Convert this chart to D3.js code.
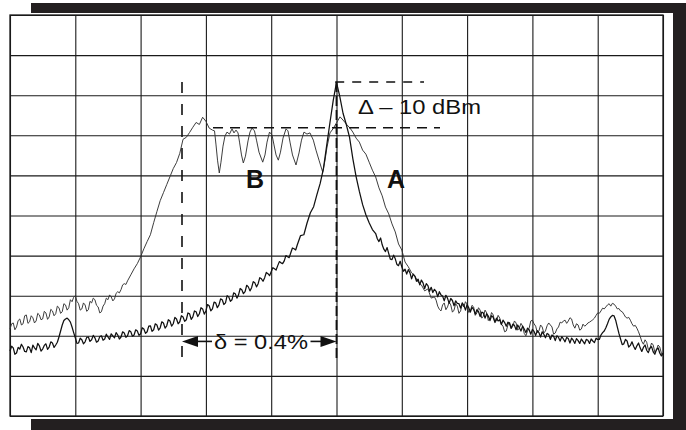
<!DOCTYPE html>
<html><head><meta charset="utf-8">
<script src="https://cdn.jsdelivr.net/npm/d3@7"></script>
<style>html,body{margin:0;padding:0;background:#fff;} svg{display:block;}</style>
</head><body>
<svg id="c" width="686" height="430"></svg>
<script>
// Frequency in screen divisions (0..10), level in dB (10 dB/div, top = 0 dB)
const traceA = [
[0,-83.8],[0.025,-82.6],[0.05,-83.0],[0.075,-84.6],[0.1,-84.3],[0.125,-82.9],[0.15,-83.3],[0.175,-82.1],[0.2,-82.8],[0.225,-83.9],
[0.25,-84.0],[0.275,-82.7],[0.3,-83.0],[0.325,-84.2],[0.35,-82.3],[0.375,-83.0],[0.4,-83.5],[0.425,-81.9],[0.45,-82.5],[0.475,-83.8],
[0.5,-83.3],[0.525,-82.4],[0.55,-82.0],[0.575,-83.4],[0.6,-82.8],[0.625,-81.5],[0.65,-81.8],[0.675,-82.9],[0.7,-82.3],[0.725,-81.6],
[0.75,-80.3],[0.775,-78.8],[0.8,-77.3],[0.825,-76.2],[0.85,-75.8],[0.875,-75.6],[0.9,-76.0],[0.925,-76.6],[0.95,-77.8],[0.975,-79.2],
[1.0,-80.5],[1.025,-81.9],[1.05,-81.8],[1.075,-80.6],[1.1,-81.0],[1.125,-82.0],[1.15,-81.5],[1.175,-80.4],[1.2,-80.3],[1.225,-81.4],
[1.25,-81.0],[1.275,-79.9],[1.3,-80.5],[1.325,-81.6],[1.35,-81.3],[1.375,-80.2],[1.4,-80.0],[1.425,-81.1],[1.45,-80.8],[1.475,-79.6],
[1.5,-80.3],[1.525,-80.9],[1.55,-79.5],[1.575,-80.0],[1.6,-80.5],[1.625,-79.2],[1.65,-79.8],[1.675,-80.8],[1.7,-80.3],[1.725,-79.0],
[1.75,-79.3],[1.775,-80.4],[1.8,-80.0],[1.825,-78.7],[1.85,-79.0],[1.875,-80.1],[1.9,-79.8],[1.925,-78.5],[1.95,-78.8],[1.975,-79.9],
[2.0,-79.5],[2.025,-78.0],[2.05,-78.3],[2.075,-79.4],[2.1,-79.0],[2.125,-77.6],[2.15,-77.5],[2.175,-78.9],[2.2,-78.5],[2.225,-77.0],
[2.25,-77.3],[2.275,-78.6],[2.3,-78.0],[2.325,-76.5],[2.35,-76.8],[2.375,-78.1],[2.4,-77.5],[2.425,-76.0],[2.45,-76.3],[2.475,-77.6],
[2.5,-77.0],[2.525,-75.4],[2.55,-75.8],[2.575,-77.0],[2.6,-76.5],[2.625,-75.0],[2.65,-75.3],[2.675,-76.4],[2.7,-76.0],[2.725,-74.3],
[2.75,-74.5],[2.775,-75.9],[2.8,-75.3],[2.825,-73.8],[2.85,-74.0],[2.875,-75.2],[2.9,-74.5],[2.925,-73.0],[2.95,-73.3],[2.975,-74.6],
[3.0,-73.8],[3.025,-72.2],[3.05,-72.5],[3.075,-73.8],[3.1,-73.3],[3.125,-71.6],[3.15,-71.8],[3.175,-73.0],[3.2,-72.3],[3.225,-70.8],
[3.25,-71.0],[3.275,-72.2],[3.3,-71.8],[3.325,-70.0],[3.35,-70.3],[3.375,-71.4],[3.4,-71.0],[3.425,-69.3],[3.45,-69.5],[3.475,-70.6],
[3.5,-69.8],[3.525,-68.2],[3.55,-68.5],[3.575,-69.5],[3.6,-69.0],[3.625,-67.4],[3.65,-67.8],[3.675,-68.8],[3.7,-68.0],[3.725,-66.5],
[3.75,-66.8],[3.775,-67.8],[3.8,-67.0],[3.825,-65.5],[3.85,-65.8],[3.875,-66.4],[3.9,-65.5],[3.925,-64.2],[3.95,-64.5],[3.975,-65.0],
[4.0,-64.0],[4.025,-63.0],[4.05,-63.3],[4.075,-63.6],[4.1,-62.5],[4.125,-61.5],[4.15,-61.8],[4.175,-62.0],[4.2,-61.3],[4.225,-60.0],
[4.25,-60.3],[4.275,-60.5],[4.3,-59.3],[4.325,-58.1],[4.35,-58.3],[4.375,-58.6],[4.4,-57.3],
[4.45,-55.0],[4.5,-54.8],[4.55,-51.8],[4.6,-49.3],[4.65,-47.8],[4.7,-44.8],[4.75,-42.0],[4.8,-38.3],[4.85,-32.5],[4.9,-26.8],
[4.95,-21.3],[5.0,-16.8],[5.05,-20.3],[5.1,-24.5],[5.15,-27.3],[5.2,-30.5],[5.25,-35.8],[5.3,-40.3],[5.35,-44.0],[5.4,-47.3],
[5.45,-49.8],[5.5,-51.8],[5.55,-53.5],
[5.6,-54.5],[5.625,-55.8],[5.65,-56.5],[5.675,-55.6],[5.7,-57.3],[5.725,-58.4],[5.75,-59.0],[5.775,-58.0],[5.8,-59.5],[5.825,-60.9],
[5.85,-61.0],[5.875,-59.9],[5.9,-60.8],[5.925,-62.2],[5.95,-62.5],[5.975,-61.4],
[6.0,-62.8],[6.025,-63.9],[6.05,-63.4],[6.075,-64.6],[6.1,-63.5],[6.125,-64.3],[6.15,-65.8],[6.175,-64.6],[6.2,-65.1],[6.225,-66.4],
[6.25,-65.9],[6.275,-67.3],[6.3,-66.1],[6.325,-66.8],[6.35,-68.2],[6.375,-67.0],[6.4,-67.5],[6.425,-68.9],[6.45,-67.9],[6.475,-69.2],
[6.5,-68.4],[6.525,-68.9],[6.55,-70.3],[6.575,-69.0],[6.6,-69.8],[6.625,-70.1],[6.65,-71.3],[6.675,-69.9],[6.7,-70.6],[6.725,-71.9],
[6.75,-70.7],[6.775,-71.2],[6.8,-72.5],[6.825,-71.3],[6.85,-71.9],[6.875,-72.0],[6.9,-73.1],[6.925,-71.8],[6.95,-72.4],[6.975,-73.6],
[7.0,-72.2],[7.025,-73.0],[7.05,-74.1],[7.075,-72.9],[7.1,-73.4],[7.125,-74.6],[7.15,-73.5],[7.175,-74.0],[7.2,-75.2],[7.225,-74.1],
[7.25,-74.3],[7.275,-75.6],[7.3,-74.5],[7.325,-75.1],[7.35,-76.2],[7.375,-75.0],[7.4,-75.4],[7.425,-76.6],[7.45,-75.6],[7.475,-76.3],
[7.5,-76.0],[7.525,-77.2],[7.55,-76.1],[7.575,-76.7],[7.6,-77.6],[7.625,-76.6],[7.65,-77.0],[7.675,-78.1],[7.7,-77.1],[7.725,-77.4],
[7.75,-78.5],[7.775,-77.3],[7.8,-78.0],[7.825,-78.8],[7.85,-77.6],[7.875,-78.3],[7.9,-79.2],[7.925,-78.1],[7.95,-78.5],[7.975,-79.6],
[8.0,-78.4],[8.025,-78.9],[8.05,-79.9],[8.075,-78.7],[8.1,-79.2],[8.125,-80.3],[8.15,-79.0],[8.175,-79.6],[8.2,-80.5],[8.225,-79.4],
[8.25,-79.7],[8.275,-80.9],[8.3,-79.8],[8.325,-80.1],[8.35,-81.2],[8.375,-80.0],[8.4,-80.4],[8.425,-81.3],[8.45,-80.2],[8.475,-80.8],
[8.5,-81.5],[8.525,-80.4],[8.55,-80.7],[8.575,-81.8],[8.6,-80.6],[8.625,-81.1],[8.65,-81.9],[8.675,-80.7],[8.7,-81.2],[8.725,-81.9],
[8.75,-80.8],[8.775,-81.4],[8.8,-82.0],[8.825,-80.9],[8.85,-81.1],[8.875,-81.9],[8.9,-80.8],[8.925,-81.3],[8.95,-81.7],[8.975,-80.6],
[9.0,-80.9],[9.025,-80.9],[9.05,-79.8],[9.075,-79.2],
[9.1,-78.8],[9.125,-78.0],[9.15,-77.0],[9.175,-75.9],[9.2,-75.3],[9.225,-74.9],[9.25,-75.0],[9.275,-76.1],[9.3,-77.8],[9.325,-79.4],
[9.35,-80.8],[9.375,-82.2],[9.4,-82.0],[9.425,-80.9],[9.45,-81.3],[9.475,-82.8],[9.5,-82.4],[9.525,-81.5],[9.55,-82.6],[9.575,-83.4],
[9.6,-82.5],[9.625,-81.8],[9.65,-83.0],[9.675,-83.9],[9.7,-82.9],[9.725,-82.3],[9.75,-83.6],[9.775,-84.2],[9.8,-83.1],[9.825,-82.7],
[9.85,-84.0],[9.875,-84.6],[9.9,-83.4],[9.925,-83.0],[9.95,-84.3],[9.975,-85.0],[10.0,-84.3]
];
const traceB = [
[0,-78.3],[0.025,-77.0],[0.05,-76.8],[0.075,-78.5],[0.1,-77.8],[0.125,-76.2],[0.15,-75.8],[0.175,-77.3],[0.2,-77.0],[0.225,-75.0],
[0.25,-74.8],[0.275,-76.9],[0.3,-76.5],[0.325,-75.0],[0.35,-75.5],[0.375,-76.8],[0.4,-76.3],[0.425,-74.4],[0.45,-74.8],[0.475,-76.0],
[0.5,-75.8],[0.525,-73.9],[0.55,-74.3],[0.575,-75.9],[0.6,-75.3],[0.625,-73.4],[0.65,-73.8],[0.675,-75.0],[0.7,-74.5],[0.725,-72.6],
[0.75,-73.0],[0.775,-74.4],[0.8,-74.0],[0.825,-72.0],[0.85,-72.3],[0.875,-73.6],[0.9,-73.0],[0.925,-71.0],[0.95,-71.5],[0.975,-70.4],
[1.0,-70.0],[1.025,-71.4],[1.05,-72.0],[1.075,-73.6],[1.1,-73.3],[1.125,-71.8],[1.15,-72.3],[1.175,-73.9],[1.2,-73.5],[1.225,-71.4],
[1.25,-71.8],[1.275,-70.6],[1.3,-71.0],[1.325,-72.4],[1.35,-72.8],[1.375,-74.3],[1.4,-74.0],[1.425,-72.6],[1.45,-72.0],[1.475,-70.6],
[1.5,-71.0],[1.525,-69.8],[1.55,-70.3],[1.575,-71.3],[1.6,-70.8],[1.625,-69.4],[1.65,-69.0],[1.675,-69.3],[1.7,-68.5],[1.725,-67.3],
[1.75,-67.0],[1.775,-67.2],[1.8,-66.3],
[1.85,-64.8],[1.9,-63.3],[1.95,-62.0],[2.0,-60.3],[2.05,-58.3],[2.1,-56.5],[2.15,-54.8],[2.2,-51.8],[2.25,-49.0],[2.3,-46.3],
[2.35,-44.3],[2.4,-42.3],[2.45,-40.3],[2.5,-38.3],[2.55,-36.8],[2.6,-34.5],[2.65,-31.0],[2.7,-30.5],[2.75,-29.3],[2.8,-28.0],
[2.85,-26.8],[2.9,-27.3],[2.95,-25.5],[3.0,-26.5],
[3.05,-28.2],[3.1,-28.7],[3.132,-28.9],[3.155,-32.4],[3.178,-36.2],[3.205,-39.4],[3.231,-36.7],[3.262,-32.7],[3.292,-30.2],
[3.323,-29.2],[3.361,-29.7],[3.4,-28.4],[3.43,-29.4],[3.461,-28.7],[3.492,-29.4],[3.515,-31.7],[3.545,-34.9],[3.573,-36.9],[3.606,-35.2],
[3.645,-31.4],[3.675,-29.2],[3.706,-28.2],[3.744,-28.9],[3.775,-31.2],[3.813,-34.2],[3.87,-36.7],[3.905,-34.9],[3.936,-31.7],[3.974,-29.2],
[4.012,-29.9],[4.043,-32.4],[4.074,-34.9],[4.109,-36.2],[4.142,-34.2],[4.181,-30.7],[4.227,-28.4],[4.257,-28.9],[4.288,-31.7],[4.326,-34.9],
[4.38,-37.4],[4.426,-34.4],[4.464,-31.2],[4.502,-29.2],[4.548,-29.7],[4.594,-29.4],[4.645,-31.2],[4.686,-33.7],[4.732,-36.2],[4.789,-39.2],
[4.824,-36.2],[4.855,-32.9],[4.9,-29.4],[4.946,-28.4],[5.0,-26.9],[5.054,-25.4],[5.1,-26.2],[5.161,-27.4],[5.207,-28.2],
[5.25,-29.2],[5.3,-30.7],[5.35,-31.7],[5.4,-33.7],[5.45,-34.7],[5.5,-36.7],[5.55,-38.7],[5.6,-40.4],[5.65,-43.1],[5.7,-45.1],
[5.75,-47.9],[5.8,-49.6],[5.85,-52.1],[5.9,-54.1],[5.95,-57.1],[6.0,-58.6],[6.05,-61.6],[6.1,-62.8],[6.15,-64.3],[6.2,-65.1],
[6.25,-66.6],[6.3,-67.3],[6.35,-68.8],[6.4,-68.3],[6.45,-70.6],
[6.5,-70.3],[6.525,-71.1],[6.55,-72.6],[6.575,-73.4],[6.6,-73.8],[6.625,-72.3],[6.65,-71.8],[6.675,-73.5],[6.7,-72.8],[6.725,-71.6],
[6.75,-72.3],[6.775,-74.1],[6.8,-73.6],[6.825,-72.0],[6.85,-72.6],[6.875,-74.4],[6.9,-73.8],[6.925,-72.2],[6.95,-72.8],[6.975,-71.5],
[7.0,-72.1],[7.025,-74.2],[7.05,-73.8],[7.075,-72.4],[7.1,-72.8],[7.125,-74.9],[7.15,-74.3],[7.175,-73.0],[7.2,-73.6],[7.225,-75.6],
[7.25,-75.1],[7.275,-73.6],[7.3,-74.3],[7.325,-76.2],[7.35,-75.6],[7.375,-74.2],[7.4,-74.8],[7.425,-76.7],[7.45,-76.3],[7.475,-74.9],
[7.5,-75.6],[7.525,-77.1],[7.55,-77.6],[7.575,-79.0],[7.6,-78.8],[7.625,-77.3],[7.65,-76.6],[7.675,-78.2],[7.7,-77.6],[7.725,-76.3],
[7.75,-76.8],[7.775,-78.6],[7.8,-78.1],[7.825,-76.9],[7.85,-77.6],[7.875,-79.4],[7.9,-80.0],[7.925,-78.8],[7.95,-78.1],[7.975,-76.3],
[8.0,-76.1],[8.025,-77.0],[8.05,-77.6],[8.075,-79.2],[8.1,-78.8],[8.125,-77.3],[8.15,-77.8],[8.175,-79.3],[8.2,-78.8],[8.225,-77.5],
[8.25,-76.8],[8.275,-77.3],[8.3,-77.8],[8.325,-79.6],[8.35,-79.3],[8.375,-78.3],[8.4,-77.8],[8.425,-76.6],[8.45,-76.8],[8.475,-76.3],
[8.5,-76.1],[8.525,-76.9],[8.55,-76.3],[8.575,-75.5],[8.6,-75.8],[8.625,-77.3],[8.65,-78.1],[8.675,-77.0],[8.7,-77.3],[8.725,-78.6],
[8.75,-78.3],[8.775,-77.1],[8.8,-77.6],[8.825,-77.3],[8.85,-76.8],[8.875,-76.6],[8.9,-76.3],[8.925,-76.0],[8.95,-75.6],[8.975,-74.9],
[9.0,-74.3],[9.025,-74.4],[9.05,-73.8],[9.075,-73.1],[9.1,-73.3],[9.125,-72.8],[9.15,-72.3],[9.175,-72.0],[9.2,-72.6],[9.225,-71.9],
[9.25,-72.1],[9.275,-72.6],[9.3,-73.3],[9.325,-73.2],[9.35,-73.8],[9.375,-74.0],[9.4,-74.6],[9.425,-75.3],[9.45,-75.6],[9.475,-75.4],
[9.5,-76.1],[9.525,-77.0],[9.55,-77.6],[9.575,-77.4],[9.6,-78.1],[9.625,-79.0],[9.65,-80.1],[9.675,-81.4],[9.7,-82.1],[9.725,-81.0],
[9.75,-81.6],[9.775,-83.4],[9.8,-83.1],[9.825,-81.8],[9.85,-82.3],[9.875,-84.1],[9.9,-83.6],[9.925,-82.3],[9.95,-82.8],[9.975,-84.3],
[10.0,-85.0]
];
// Annotation values (divisions / dB)
const peakLevel = -16.7;          // peak of trace A
const rippleLevel = -28.1;        // top of trace B passband
const markerFreqs = [2.634, 5.0]; // the two vertical markers (delta = 0.4 %)
const markerBottom = -85.7;
const arrowLevel = -81.4;
const labels = ["A", "B"];
const deltaText = "\u03B4 = 0.4%";
const refText = "\u0394 \u2013 10 dBm";

const svg = d3.select('#c');
// offset black frame (shadow)
svg.append('rect').attr('x',31).attr('y',3).attr('width',655).attr('height',427).attr('fill','#231f20');
svg.append('rect').attr('x',31).attr('y',13).attr('width',642).attr('height',406).attr('fill','#fff');

const L=10, R=663, T=15, B=416;
const x = d3.scaleLinear().domain([0,10]).range([L,R]);
const y = d3.scaleLinear().domain([-100,0]).range([B,T]);

svg.append('rect').attr('x',L).attr('y',T).attr('width',R-L).attr('height',B-T).attr('fill','#fff');

const gx = svg.append('g').attr('transform',`translate(0,${B})`)
  .call(d3.axisBottom(x).ticks(10).tickSize(-(B-T)).tickFormat(''));
const gy = svg.append('g').attr('transform',`translate(${L},0)`)
  .call(d3.axisLeft(y).ticks(10).tickSize(-(R-L)).tickFormat(''));
[gx,gy].forEach(g=>{ g.select('.domain').remove(); g.selectAll('line').attr('stroke','#1a1a1a').attr('stroke-width',1.1); });

svg.append('rect').attr('x',L).attr('y',T).attr('width',R-L).attr('height',B-T)
  .attr('fill','none').attr('stroke','#1a1a1a').attr('stroke-width',1.3);

const line = d3.line().x(d=>x(d[0])).y(d=>y(d[1]));
svg.append('path').datum(traceB).attr('d',line).attr('fill','none').attr('stroke','#333').attr('stroke-width',0.95).attr('stroke-linejoin','round');
svg.append('path').datum(traceA).attr('d',line).attr('fill','none').attr('stroke','#111').attr('stroke-width',1.25).attr('stroke-linejoin','round');

// dashed reference lines
const dash = (x1,y1,x2,y2,da,w)=>svg.append('line').attr('x1',x1).attr('y1',y1).attr('x2',x2).attr('y2',y2)
  .attr('stroke','#111').attr('stroke-width',w).attr('stroke-dasharray',da);
dash(x(4.98), y(peakLevel), x(6.34), y(peakLevel), '9,8', 1.4);
dash(x(3.109), y(rippleLevel), x(6.585), y(rippleLevel), '10,7', 1.4);
dash(x(markerFreqs[0]), y(peakLevel), x(markerFreqs[0]), y(markerBottom), '11,11', 1.6);
dash(x(markerFreqs[1]), y(peakLevel), x(markerFreqs[1]), y(markerBottom), '10,4', 1.8);

// delta arrow
const ay = y(arrowLevel), xl = x(markerFreqs[0]), xr = x(markerFreqs[1]);
svg.append('path').attr('d',`M${xl},${ay}L${xl+16},${ay-5.5}L${xl+16},${ay+5.5}Z`).attr('fill','#111');
svg.append('path').attr('d',`M${xr},${ay}L${xr-16},${ay-5.5}L${xr-16},${ay+5.5}Z`).attr('fill','#111');
svg.append('line').attr('x1',xl+14).attr('x2',xl+30).attr('y1',ay).attr('y2',ay).attr('stroke','#111').attr('stroke-width',1.6);
svg.append('line').attr('x1',xr-26).attr('x2',xr-14).attr('y1',ay).attr('y2',ay).attr('stroke','#111').attr('stroke-width',1.6);

const font = "'Liberation Sans', Arial, Helvetica, sans-serif";
svg.append('text').attr('x',xl+32).attr('y',y(-83.3)).text(deltaText)
  .attr('font-family',font).attr('font-size',21).attr('fill','#111')
  .attr('textLength',94).attr('lengthAdjust','spacingAndGlyphs');
svg.append('text').attr('x',x(5.329)).attr('y',y(-24.7)).text(refText)
  .attr('font-family',font).attr('font-size',21).attr('fill','#111')
  .attr('textLength',123).attr('lengthAdjust','spacingAndGlyphs');
svg.append('text').attr('x',x(5.773)).attr('y',y(-43.1)).text(labels[0])
  .attr('font-family',font).attr('font-size',25).attr('font-weight','bold').attr('fill','#111');
svg.append('text').attr('x',x(3.614)).attr('y',y(-43.1)).text(labels[1])
  .attr('font-family',font).attr('font-size',25).attr('font-weight','bold').attr('fill','#111');
</script>
</body></html>
